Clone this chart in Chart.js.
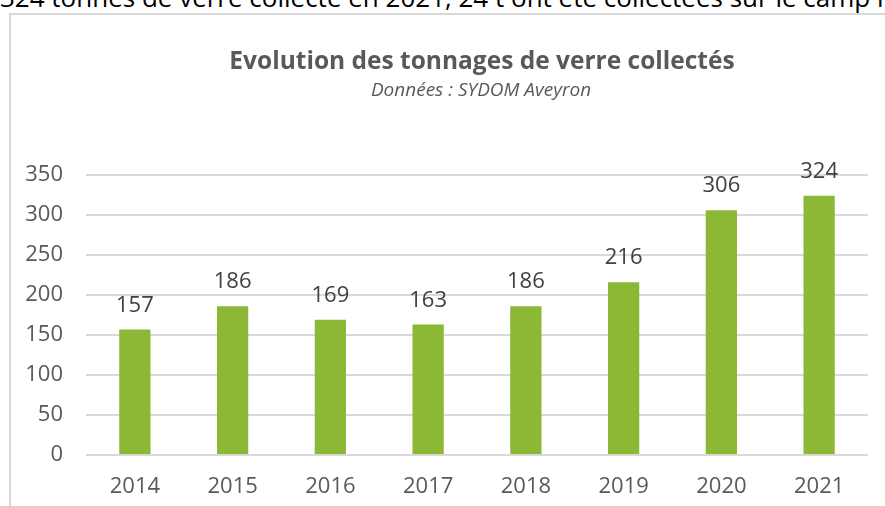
<!DOCTYPE html>
<html>
<head>
<meta charset="utf-8">
<script src="https://cdn.jsdelivr.net/npm/chart.js@4"></script>
<style>
  html, body { margin: 0; padding: 0; background: #fff; overflow: hidden; }
  body { width: 885px; height: 506px; position: relative; font-family: 'Open Sans', sans-serif; }
  .intro { position: absolute; left: 0; top: -16px; font-size: 26px; line-height: 26px; color: #000; white-space: nowrap; }
  .frame { position: absolute; left: 9px; top: 13px; width: 900px; height: 600px; border: 2px solid #d9d9d9; box-sizing: border-box; }
  .wrap { position: absolute; left: 0; top: 0; width: 885px; height: 506px; }
  .title, .subtitle { position: absolute; left: 0; width: 964px; text-align: center; color: #595959; white-space: nowrap; }
  .title { top: 45px; font-size: 24.5px; line-height: 30px; font-weight: bold; }
  .subtitle { top: 77px; width: 962px; font-size: 19px; line-height: 24px; font-style: italic; }
</style>
</head>
<body>
<div class="intro">324 tonnes de verre collecté en 2021, 24 t ont été collectées sur le camp militaire</div>
<div class="frame"></div>
<div class="wrap"><canvas id="chart"></canvas></div>
<div class="title">Evolution des tonnages de verre collectés</div>
<div class="subtitle">Données : SYDOM Aveyron</div>
<script>
const years = ['2014', '2015', '2016', '2017', '2018', '2019', '2020', '2021'];
const tonnages = [157, 186, 169, 163, 186, 216, 306, 324];

const BAR_COLOR = '#8cb836';
const TEXT_COLOR = '#595959';

// value labels above each bar
const barLabels = {
  id: 'barLabels',
  afterDatasetsDraw(chart) {
    const ctx = chart.ctx;
    const meta = chart.getDatasetMeta(0);
    ctx.save();
    ctx.font = '22px "Open Sans"';
    ctx.fillStyle = '#404040';
    ctx.textAlign = 'center';
    ctx.textBaseline = 'middle';
    meta.data.forEach((bar, i) => {
      ctx.fillText(String(chart.data.datasets[0].data[i]), bar.x, bar.y - 24);
    });
    ctx.restore();
  }
};

new Chart(document.getElementById('chart'), {
  type: 'bar',
  data: {
    labels: years,
    datasets: [{
      data: tonnages,
      backgroundColor: BAR_COLOR,
      borderWidth: 0,
      barPercentage: 0.32,
      categoryPercentage: 1
    }]
  },
  options: {
    responsive: true,
    maintainAspectRatio: false,
    animation: false,
    layout: { padding: { left: 0, right: 17, top: 175, bottom: 0 } },
    plugins: {
      legend: { display: false },
      tooltip: { enabled: false }
    },
    scales: {
      x: {
        grid: { display: false },
        border: { display: false },
        ticks: { color: TEXT_COLOR, font: { family: 'Open Sans', size: 22 }, padding: 11 },
        afterFit(scale) { scale.height = 51; }
      },
      y: {
        min: 0,
        max: 350,
        ticks: { stepSize: 50, color: TEXT_COLOR, font: { family: 'Open Sans', size: 22 }, padding: 23 },
        grid: { color: '#d9d9d9', lineWidth: 2, drawTicks: false },
        border: { display: false },
        afterFit(scale) { scale.width = 86; }
      }
    }
  },
  plugins: [barLabels]
});
</script>
</body>
</html>
